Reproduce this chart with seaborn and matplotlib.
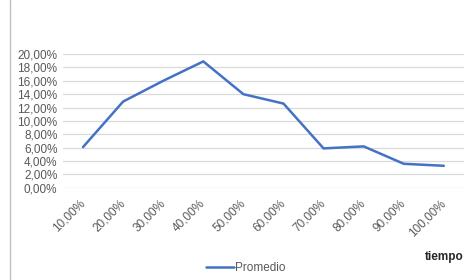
import numpy as np
import pandas as pd
import matplotlib
matplotlib.use("Agg")
import matplotlib.pyplot as plt
import seaborn as sns

# ── Data ────────────────────────────────────────────────
categorias = ["10,00%", "20,00%", "30,00%", "40,00%", "50,00%",
              "60,00%", "70,00%", "80,00%", "90,00%", "100,00%"]
promedio   = [6.1, 12.9, 16.0, 18.9, 14.0, 12.6, 5.9, 6.2, 3.6, 3.3]
y_ticks    = [0, 2, 4, 6, 8, 10, 12, 14, 16, 18, 20]
# ────────────────────────────────────────────────────────

sns.set_theme(style="white")
plt.rcParams["font.family"] = ["Liberation Sans", "DejaVu Sans"]

df = pd.DataFrame({"pos": range(len(categorias)), "Promedio": promedio})

fig = plt.figure(figsize=(4.7, 2.8), dpi=100)
ax = fig.add_axes([0.134, 0.329, 0.853, 0.478])

sns.lineplot(data=df, x="pos", y="Promedio", ax=ax, color="#4472C4",
             linewidth=1.8, label="Promedio", legend=False)

ax.set_xlim(-0.5, len(categorias) - 0.5)
ax.set_ylim(0, 20)
ax.set_yticks(y_ticks)
ax.set_yticklabels([f"{v:.2f}%".replace(".", ",") for v in y_ticks],
                   fontsize=8.5, color="#595959")
ax.set_xticks(range(len(categorias)))
ax.set_xticklabels(categorias, rotation=45, ha="right", va="center",
                   rotation_mode="anchor", fontsize=8.5, color="#595959")
ax.tick_params(axis="y", length=0, pad=4)
ax.tick_params(axis="x", length=0, pad=10)
ax.yaxis.grid(True, color="#d9d9d9", linewidth=0.9)
ax.set_axisbelow(True)
for s in ax.spines.values():
    s.set_visible(False)
ax.set_xlabel("")
ax.set_ylabel("")

fig.text(0.903, 0.082, "tiempo", fontsize=8.5, fontweight="bold",
         color="#262626", ha="left", va="center")

handles, labels = ax.get_legend_handles_labels()
fig.legend(handles, labels, loc="center", bbox_to_anchor=(0.523, 0.043),
           frameon=False, fontsize=8.5, handlelength=2.3, handletextpad=0.1,
           labelcolor="#595959")

# chart-area border on the left
fig.add_artist(plt.Line2D([0.021, 0.021], [0, 1], color="#bfbfbf",
                          linewidth=1.0, transform=fig.transFigure))

fig.savefig("out.png", dpi=100)
